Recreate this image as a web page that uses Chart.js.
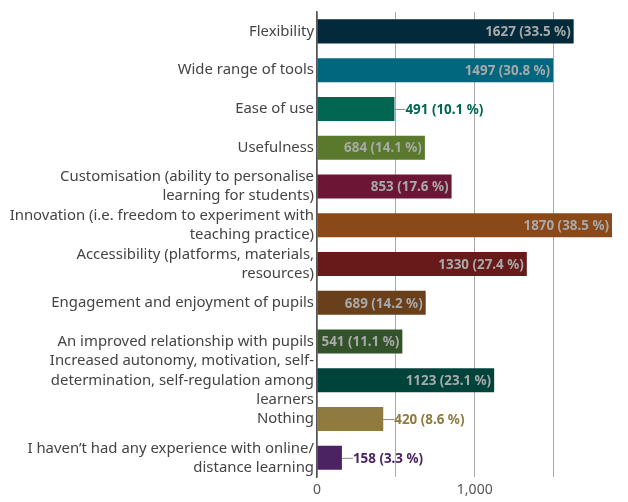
<!DOCTYPE html>
<html><head><meta charset="utf-8">
<script src="https://cdn.jsdelivr.net/npm/chart.js@4/dist/chart.umd.min.js"></script>
<style>html,body{margin:0;padding:0;background:#fff}#wrap{width:628px;height:502px}</style>
</head><body><div id="wrap"><canvas id="c" width="628" height="502"></canvas></div>
<script>
const categories = [
  ["Flexibility"],
  ["Wide range of tools"],
  ["Ease of use"],
  ["Usefulness"],
  ["Customisation (ability to personalise","learning for students)"],
  ["Innovation (i.e. freedom to experiment with","teaching practice)"],
  ["Accessibility (platforms, materials,","resources)"],
  ["Engagement and enjoyment of pupils"],
  ["An improved relationship with pupils"],
  ["Increased autonomy, motivation, self-","determination, self-regulation among","learners"],
  ["Nothing"],
  ["I haven\u2019t had any experience with online/","distance learning"]
];
const counts = [1627, 1497, 491, 684, 853, 1870, 1330, 689, 541, 1123, 420, 158];
const percents = [33.5, 30.8, 10.1, 14.1, 17.6, 38.5, 27.4, 14.2, 11.1, 23.1, 8.6, 3.3];
const barColors = ["#022a3b","#00677e","#006651","#5a792c","#6a1634","#8a4918","#681a1b","#6a3f1b","#33532a","#00433a","#8f7b3f","#4b2262"];
const tickLabels = {0: "0", 1000: "1,000"};

const labelPlugin = {
  id: 'barLabels',
  afterDatasetsDraw(chart) {
    const ctx = chart.ctx;
    const meta = chart.getDatasetMeta(0);
    ctx.save();
    ctx.font = "bold 13.4px 'Noto Sans'";
    ctx.textBaseline = 'middle';
    meta.data.forEach((bar, i) => {
      const text = counts[i] + " (" + percents[i].toFixed(1) + " %)";
      const w = ctx.measureText(text).width;
      const barW = bar.x - bar.base;
      if (w + 3 <= barW) {
        ctx.fillStyle = '#a9a9a9';
        ctx.textAlign = 'right';
        ctx.fillText(text, bar.x - 3, bar.y + 1);
      } else {
        ctx.strokeStyle = '#888';
        ctx.lineWidth = 1;
        ctx.beginPath();
        ctx.moveTo(bar.x, bar.y + 0.5);
        ctx.lineTo(bar.x + 11, bar.y + 0.5);
        ctx.stroke();
        ctx.fillStyle = barColors[i];
        ctx.textAlign = 'left';
        ctx.fillText(text, bar.x + 11, bar.y + 1);
      }
    });
    ctx.restore();
  }
};

new Chart(document.getElementById('c'), {
  type: 'bar',
  data: {
    labels: categories,
    datasets: [{
      data: counts,
      backgroundColor: barColors,
      borderWidth: 0,
      barPercentage: 0.62,
      categoryPercentage: 1.0
    }]
  },
  options: {
    indexAxis: 'y',
    responsive: false,
    animation: false,
    layout: { padding: { top: 12, right: 16, left: 0, bottom: 0 } },
    plugins: { legend: { display: false }, tooltip: { enabled: false } },
    scales: {
      x: {
        min: 0, max: 1870,
        grid: { color: '#aaaaaa', drawTicks: false },
        border: { display: false },
        afterBuildTicks(axis) { axis.ticks = [0, 500, 1000, 1500].map(v => ({ value: v })); },
        afterFit(scale) { scale.paddingLeft = 0; scale.paddingRight = 0; },
        ticks: {
          padding: 4,
          color: '#555',
          font: { family: "'Noto Sans'", size: 14 },
          autoSkip: false,
          maxRotation: 0,
          callback: v => tickLabels[v] !== undefined ? tickLabels[v] : ''
        }
      },
      y: {
        grid: { display: false, drawTicks: false, tickLength: 0 },
        border: { display: true, color: '#555', width: 1.5 },
        afterFit(scale) { scale.width = 317; scale.paddingTop = 0; scale.paddingBottom = 0; },
        ticks: {
          color: '#444',
          padding: 3,
          font: { family: "'Noto Sans'", size: 14.9, lineHeight: 1.28 },
          autoSkip: false
        }
      }
    }
  },
  plugins: [labelPlugin]
});
</script></body></html>
